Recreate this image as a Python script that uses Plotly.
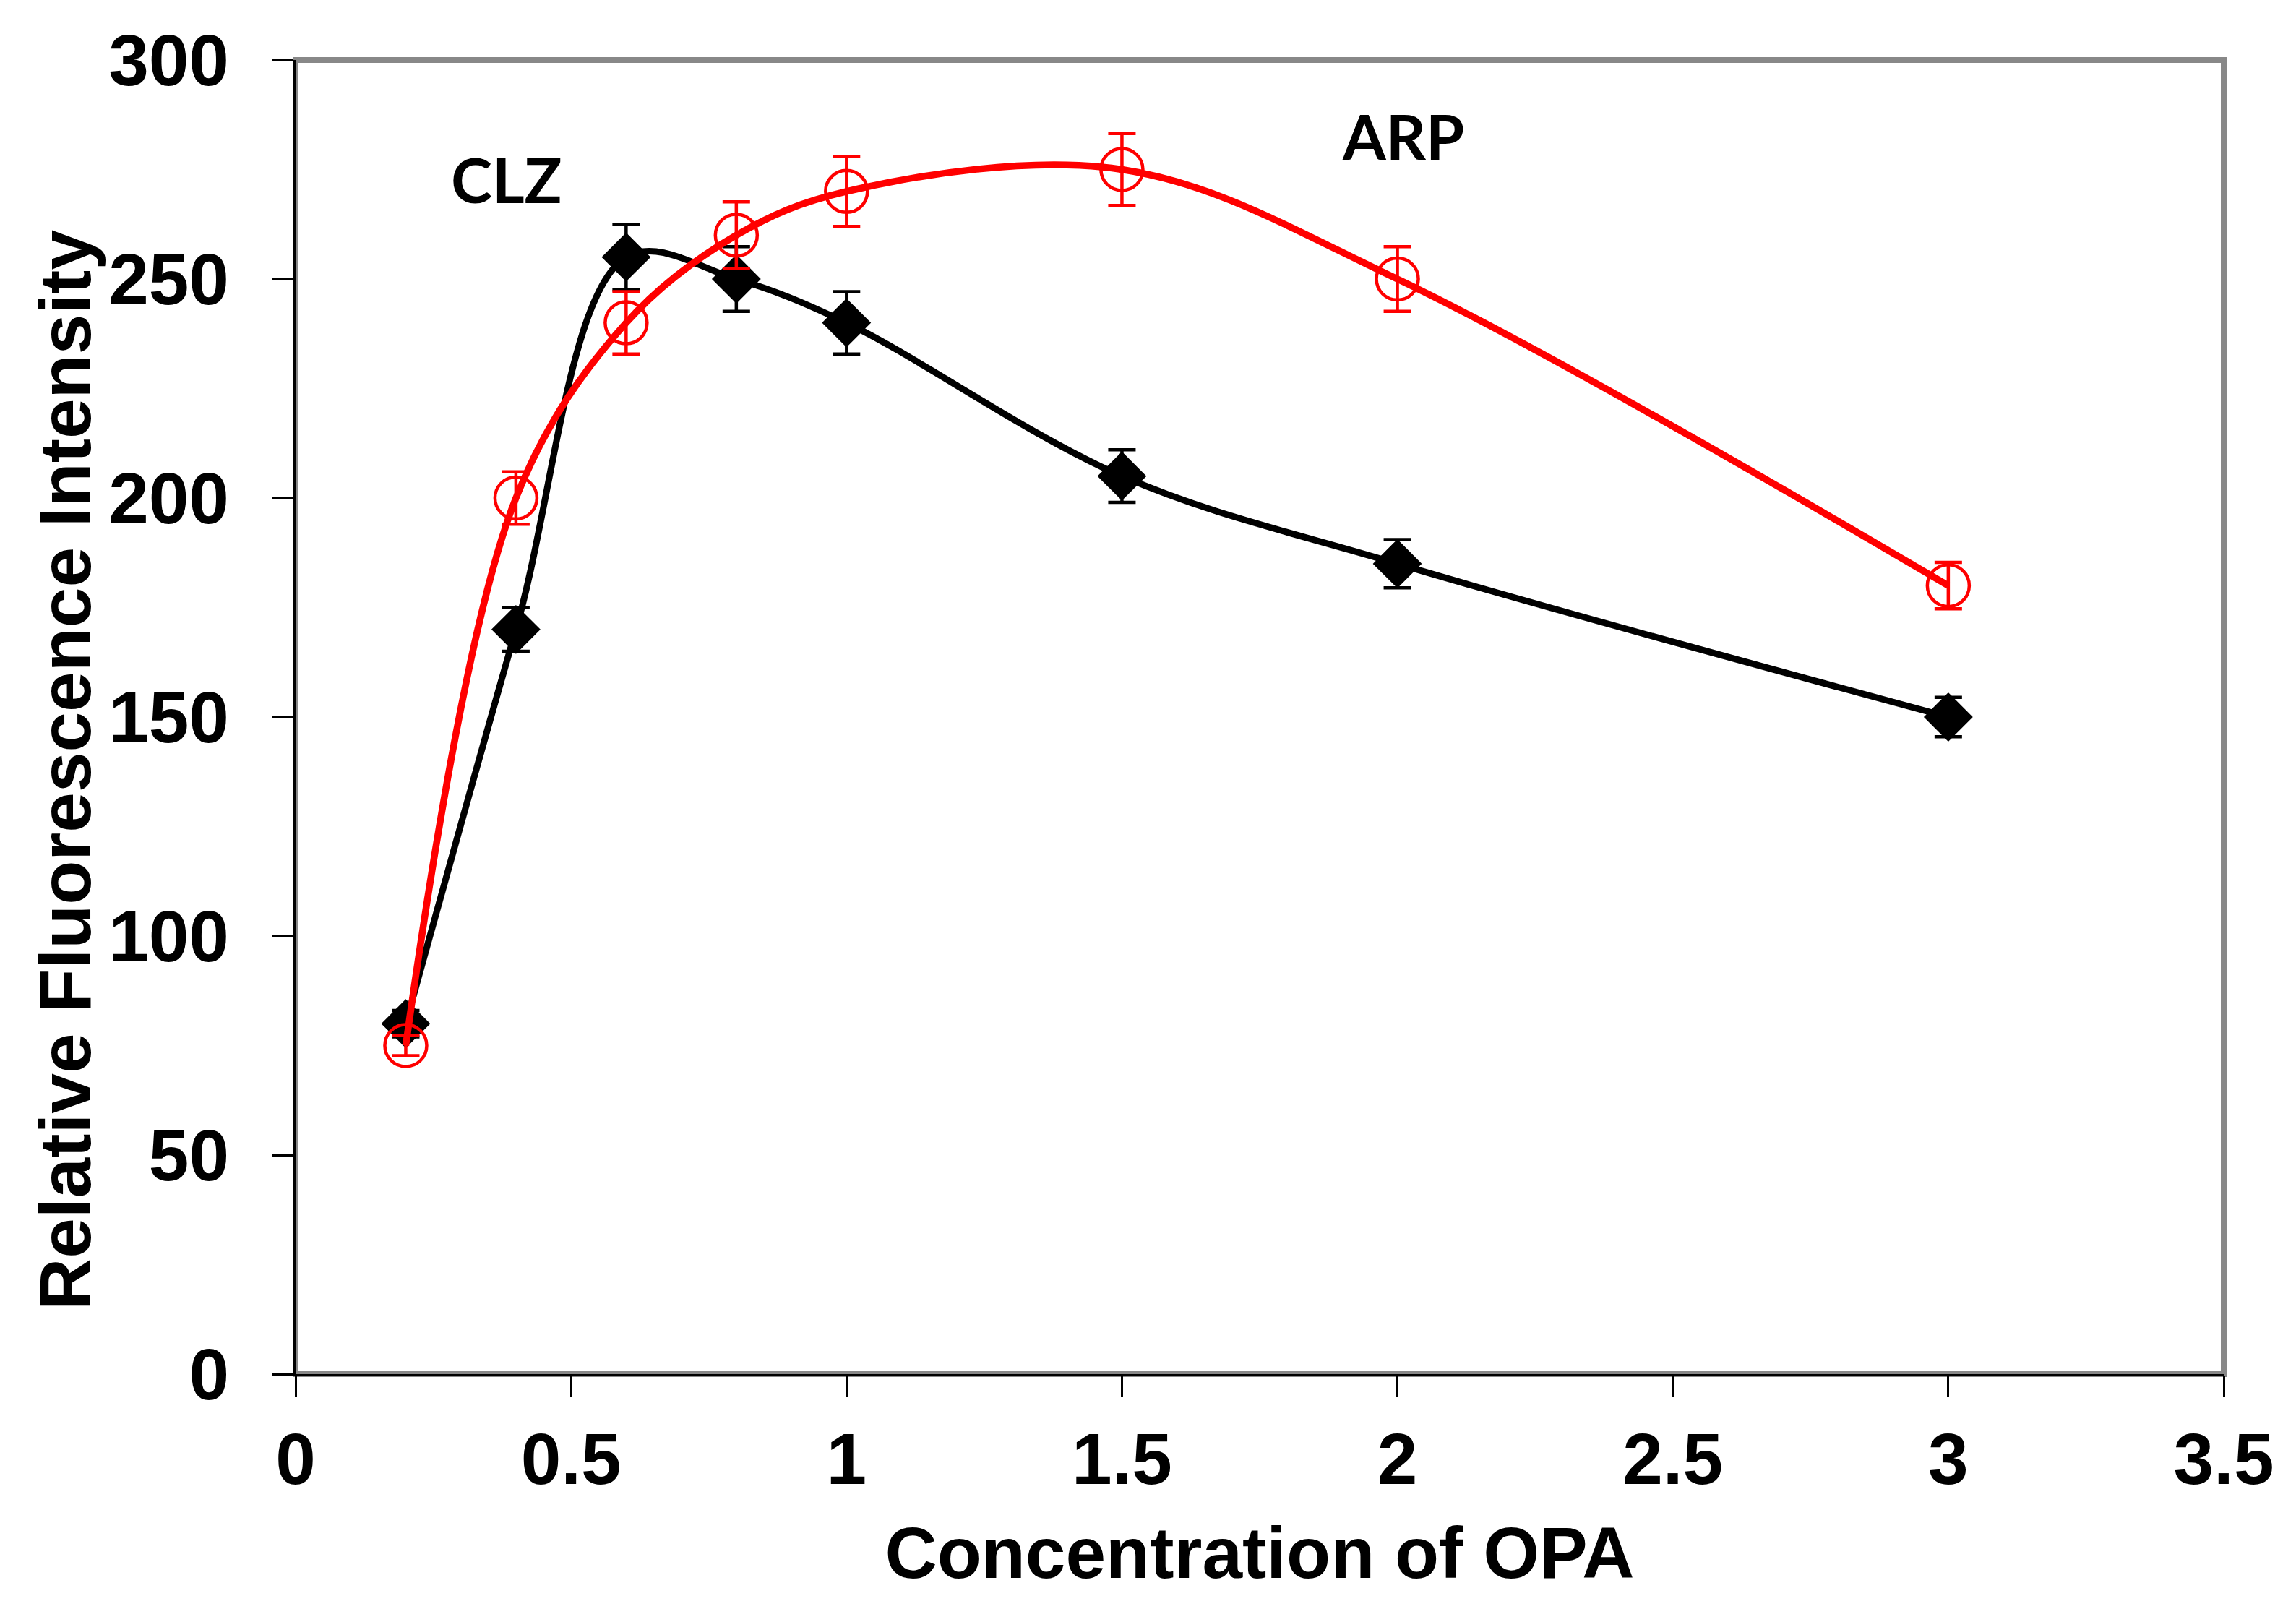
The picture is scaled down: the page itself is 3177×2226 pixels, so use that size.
import plotly.graph_objects as go

# Data
opa_conc = [0.2, 0.4, 0.6, 0.8, 1.0, 1.5, 2.0, 3.0]
clz_values = [80, 170, 255, 250, 240, 205, 185, 150]
clz_errors = [3, 5, 7.5, 7.4, 7.1, 6, 5.5, 4.5]
arp_values = [75, 200, 240, 260, 270, 275, 250, 180]
arp_errors = [2.3, 6, 7.1, 7.6, 8, 8.2, 7.4, 5.3]

x_ticks = [0, 0.5, 1, 1.5, 2, 2.5, 3, 3.5]
x_tick_labels = ["0", "0.5", "1", "1.5", "2", "2.5", "3", "3.5"]
y_ticks = [0, 50, 100, 150, 200, 250, 300]
y_tick_labels = ["0", "50", "100", "150", "200", "250", "300"]

labels = ["CLZ", "ARP"]
label_x = [0.383, 2.011]
label_y = [272.8, 282.7]

W, H = 3177, 2226
L, R, T, B = 401, 108, 75, 333
fig = go.Figure()

fig.add_trace(go.Scatter(
    x=opa_conc, y=clz_values, name="CLZ", mode="lines+markers",
    line=dict(color="black", width=9, shape="spline", smoothing=1.0),
    marker=dict(symbol="diamond", size=50, color="black",
                line=dict(color="black", width=2)),
    error_y=dict(type="data", array=clz_errors, visible=True,
                 color="black", thickness=4.5, width=19),
    showlegend=False,
))

fig.add_trace(go.Scatter(
    x=opa_conc, y=arp_values, name="ARP", mode="lines+markers",
    line=dict(color="#FF0000", width=9.5, shape="spline", smoothing=1.0),
    marker=dict(symbol="circle-open", size=58, color="#FF0000",
                line=dict(color="#FF0000", width=4.5)),
    error_y=dict(type="data", array=arp_errors, visible=True,
                 color="#FF0000", thickness=4.5, width=19),
    showlegend=False,
))

for t, ax, ay in zip(labels, label_x, label_y):
    fig.add_annotation(x=ax, y=ay, text=t, showarrow=False,
                       font=dict(family="Lato", size=86, color="black", weight="bold"),
                       xanchor="center", yanchor="middle")

tick_font = dict(family="Liberation Sans", size=100, color="black", weight="bold")
title_font = dict(family="Liberation Sans", size=100, color="black", weight="bold")

# y-axis title (placed slightly below the plot centre, as in the reference)
plot_w = W - L - R
plot_h = H - T - B
fig.add_annotation(x=(82 - L) / plot_w, y=(H - B - 1058) / plot_h,
                   xref="paper", yref="paper", text="Relative Fluorescence Intensity",
                   textangle=-90, showarrow=False, font=title_font,
                   xanchor="center", yanchor="middle")

# gray frame
fig.add_shape(type="rect", xref="paper", yref="paper", x0=0, y0=0, x1=1, y1=1,
              line=dict(color="#888888", width=8), layer="below")

fig.update_layout(
    width=W, height=H,
    margin=dict(l=L, r=R, t=T, b=B),
    paper_bgcolor="white", plot_bgcolor="white",
    xaxis=dict(
        range=[0, 3.5], tickvals=x_ticks, ticktext=x_tick_labels,
        showgrid=False, zeroline=False,
        showline=True, linecolor="black", linewidth=3,
        ticks="outside", ticklen=29, tickwidth=3, tickcolor="black",
        tickfont=tick_font,
        title=dict(text="Concentration of OPA", font=title_font, standoff=40),
    ),
    yaxis=dict(
        range=[0, 300], tickvals=y_ticks, ticktext=y_tick_labels,
        showgrid=False, zeroline=False,
        showline=True, linecolor="black", linewidth=3,
        ticks="outside", ticklen=29, tickwidth=3, tickcolor="black",
        tickfont=tick_font, ticklabelstandoff=40,
    ),
)

fig.write_html("out.html")
